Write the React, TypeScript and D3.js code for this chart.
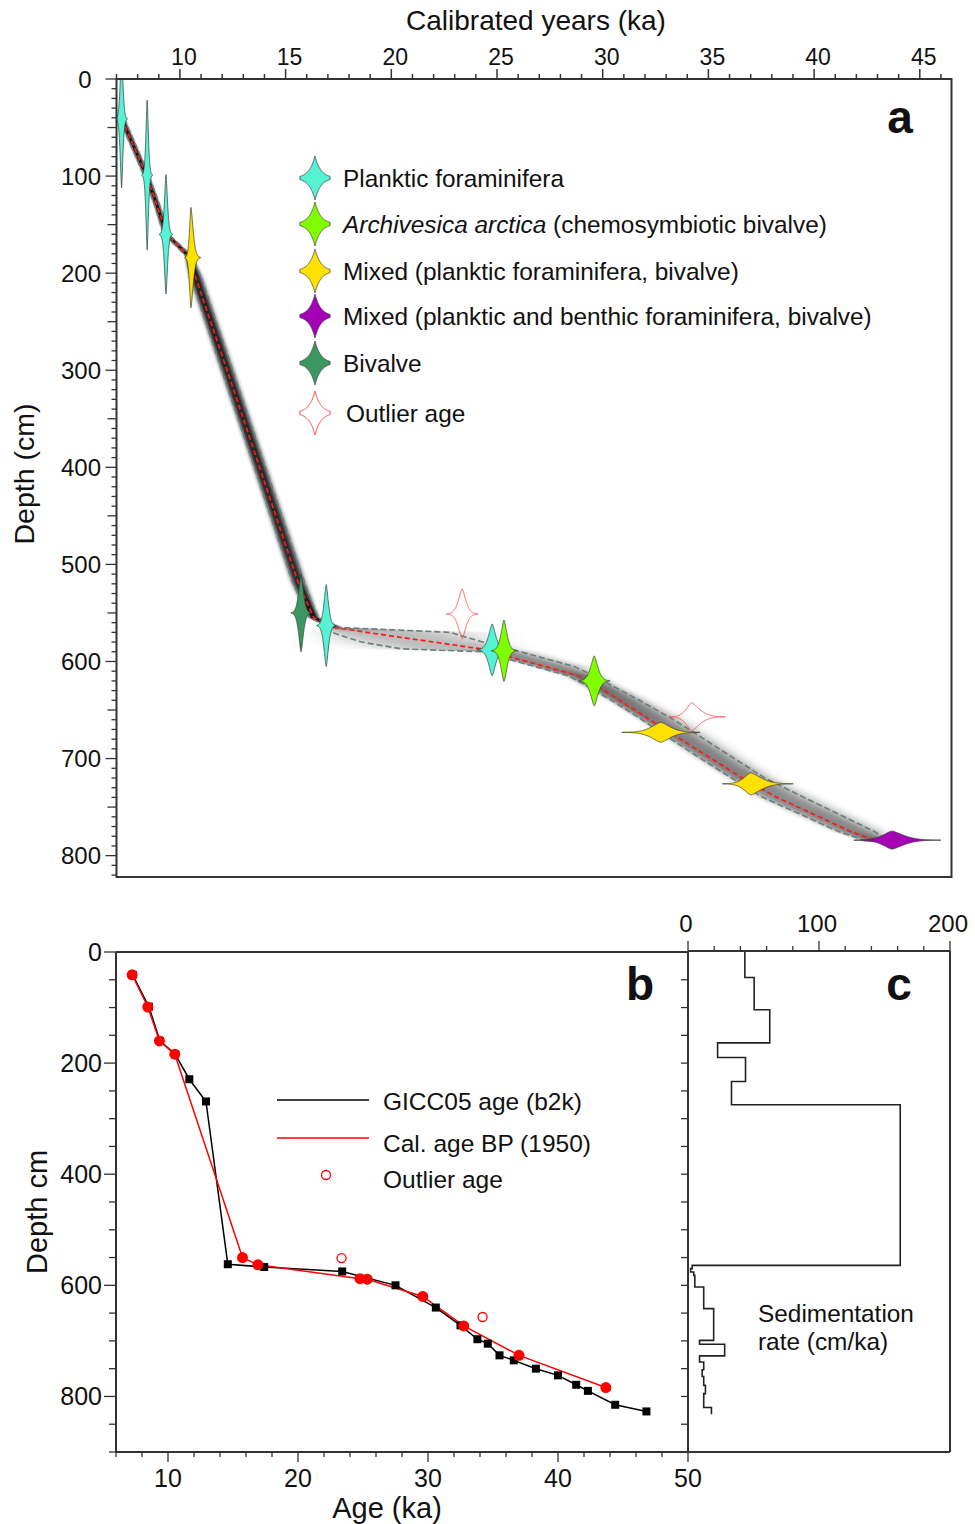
import React from "react";
import * as d3 from "d3";

// ---------- DATA ----------
// Dated samples (calibrated ages, ka) and depths (cm)
const calAges = [7.24, 8.45, 9.34, 10.52, 15.73, 16.92, 24.77, 25.33, 29.6, 32.75, 37.0, 43.68];
const dateDepths = [41, 99, 160, 184, 550, 563, 588, 589, 620, 673, 726, 784];
const dateTypes = ["planktic", "planktic", "planktic", "mixedPB", "bivalve", "planktic", "planktic", "archivesica", "archivesica", "mixedPB", "mixedPB", "mixedPBB"];
const sigmaYoung = [0.089, 0.082, 0.103, 0.095, 0.158, 0.15, 0.237, 0.2, 0.246, 0.615, 0.447, 0.6];
const sigmaOld = [0.089, 0.082, 0.103, 0.15, 0.158, 0.15, 0.237, 0.2, 0.246, 0.615, 0.67, 0.77];

const outlierAges = [23.35, 34.2];
const outlierDepths = [551, 657];
const outlierSigmaYoung = [0.246, 0.35];
const outlierSigmaOld = [0.246, 0.53];

// Age-depth model (panel a)
const modelDepth = [41, 70, 99, 130, 160, 172, 182, 204, 300, 400, 518, 545, 555, 565, 570, 575, 580, 587, 590, 595, 605, 615, 625, 640, 660, 680, 700, 720, 740, 760, 775, 786];
const modelMean = [7.25, 7.83, 8.41, 8.92, 9.35, 9.94, 10.41, 10.74, 12.23, 13.77, 15.58, 16.13, 16.34, 17.33, 18.84, 20.4, 22.01, 24.23, 24.73, 25.56, 27.24, 28.89, 29.73, 30.8, 32.24, 33.68, 35.14, 36.59, 38.25, 40.24, 41.71, 43.1];
const modelYoung = [7.13, 7.71, 8.29, 8.8, 9.23, 9.82, 10.27, 10.5, 11.98, 13.52, 15.32, 15.9, 16.14, 17.1, 17.18, 17.87, 18.6, 20.48, 24.3, 25.09, 26.76, 28.4, 29.24, 30.41, 31.86, 33.23, 34.64, 36.1, 37.58, 39.62, 41.14, 42.6];
const modelOld = [7.37, 7.95, 8.53, 9.04, 9.47, 10.06, 10.55, 11.0, 12.5, 14.05, 15.88, 16.35, 16.55, 17.6, 22.76, 23.54, 24.33, 25.62, 26.13, 26.94, 28.63, 29.61, 30.45, 31.74, 33.36, 34.8, 36.23, 37.67, 39.52, 41.42, 42.84, 43.6];

// GICC05 ages (b2k), panel b
const giccAges = [7.28, 8.53, 9.38, 10.55, 11.64, 12.92, 14.6, 17.4, 23.4, 27.5, 30.6, 32.5, 33.8, 34.6, 35.5, 36.6, 38.3, 40.0, 41.4, 42.3, 44.4, 46.8];
const giccDepths = [41, 98.5, 160, 184, 229, 269, 562, 567, 575, 600, 640, 672, 697, 705, 726, 735, 750, 762, 779, 790, 815, 827];

// Sedimentation rate (panel c)
const sedBreaks = [0, 46, 104, 163.5, 190, 233, 275, 564, 570, 576, 582, 603, 642, 699, 706, 727, 738, 752, 764, 780, 795, 820, 832];
const sedRates = [43.4, 50.5, 62.4, 22.6, 43.9, 33.2, 162, 3.2, 2, 4.4, 5.2, 12, 19.6, 8.8, 28, 8.8, 12, 10.8, 12, 13.3, 12, 17.9];

const legendAItems = [
  { type: "planktic", label: "Planktic foraminifera" },
  { type: "archivesica", label: "Archivesica arctica", extra: " (chemosymbiotic bivalve)" },
  { type: "mixedPB", label: "Mixed (planktic foraminifera, bivalve)" },
  { type: "mixedPBB", label: "Mixed (planktic and benthic foraminifera, bivalve)" },
  { type: "bivalve", label: "Bivalve" },
  { type: "outlier", label: "Outlier age" },
];

const aTopTickLabels = [10, 15, 20, 25, 30, 35, 40, 45];
const aDepthTickLabels = [0, 100, 200, 300, 400, 500, 600, 700, 800];
const bAgeTickLabels = [10, 20, 30, 40, 50];
const bDepthTickLabels = [0, 200, 400, 600, 800];
const cRateTickLabels = [0, 100, 200];

const typeColors: Record<string, string> = {
  planktic: "#55f3d3",
  archivesica: "#80ff00",
  mixedPB: "#ffe100",
  mixedPBB: "#a600b6",
  bivalve: "#3c9660",
};

const FONT = "Liberation Sans, Arial, Helvetica, sans-serif";
const AX = "#333";

function violinPath(cx: number, cy: number, sL: number, sR: number, H: number, p: number, ext = 3) {
  const n = 160;
  const up: [number, number][] = [];
  const lo: [number, number][] = [];
  for (let i = 0; i <= n; i++) {
    const u = -ext * sL + (i / n) * ext * (sL + sR);
    const s = u < 0 ? sL : sR;
    const f = Math.exp(-Math.pow(Math.abs(u) / s, p));
    up.push([cx + u, cy - H * f]);
    lo.push([cx + u, cy + H * f]);
  }
  lo.reverse();
  const pts = up.concat(lo);
  return "M" + pts.map((q) => q[0].toFixed(2) + "," + q[1].toFixed(2)).join("L") + "Z";
}

export default function App() {
  const xA = d3.scaleLinear().domain([7, 46.5]).range([116.5, 951.5]);
  const yA = d3.scaleLinear().domain([0, 822]).range([79, 877]);
  const xB = d3.scaleLinear().domain([6, 50]).range([116, 688]);
  const yB = d3.scaleLinear().domain([0, 900]).range([952, 1452]);
  const xC = d3.scaleLinear().domain([0, 200]).range([688, 950]);

  const pxPerKa = xA(1) - xA(0);
  const K = 260;

  // ----- band as 1-px rows with horizontal gradient -----
  const meanAt = d3.scaleLinear().domain(modelDepth).range(modelMean).clamp(true);
  const youngAt = d3.scaleLinear().domain(modelDepth).range(modelYoung).clamp(true);
  const oldAt = d3.scaleLinear().domain(modelDepth).range(modelOld).clamp(true);
  const F = 1.9;
  const y0 = Math.ceil(yA(modelDepth[0]));
  const y1 = Math.floor(yA(modelDepth[modelDepth.length - 1]));
  const bandRows = d3.range(y0, y1).map((py) => {
    const d = yA.invert(py + 0.5);
    const m = meanAt(d);
    const yo = youngAt(d);
    const ol = oldAt(d);
    const w = Math.max(0.05, (ol - yo) / 2);
    const op = Math.min(0.92, 0.86 * Math.pow(0.26 / w, 0.5));
    return {
      py,
      xl: xA(m - F * (m - yo)),
      xm: xA(m),
      xr: xA(m + F * (ol - m)),
      op,
    };
  });
  const gstops = d3.range(0, 1.0001, 0.05).map((t) => {
    const u = 1 - t;
    return { t, o: Math.exp(-0.5 * Math.pow(u / 0.5, 3)) };
  });

  const lineOf = (arr: number[]) =>
    d3
      .line<number>()
      .x((v) => xA(v))
      .y((_, i) => yA(modelDepth[i]))(arr) as string;

  // ----- panel b lines -----
  const giccLine = d3
    .line<number>()
    .x((v) => xB(v))
    .y((_, i) => yB(giccDepths[i]))(giccAges) as string;
  const calLine = d3
    .line<number>()
    .x((v) => xB(v))
    .y((_, i) => yB(dateDepths[i]))(calAges) as string;

  // ----- panel c step -----
  const sedPts: [number, number][] = [];
  sedRates.forEach((r, i) => {
    sedPts.push([xC(r), yB(sedBreaks[i])]);
    sedPts.push([xC(r), yB(sedBreaks[i + 1])]);
  });
  const sedLine = d3.line()(sedPts) as string;

  const aTopTicks = d3.range(7, 47);
  const aLeftTicks = d3.range(0, 830, 10);
  const bLeftTicks = d3.range(0, 901, 50);
  const bBottomTicks = d3.range(6, 51, 2);
  const cTopTicks = d3.range(0, 201, 20);

  const textStyle = { fontFamily: FONT, fill: "#111" } as any;

  return (
    <svg width={975} height={1524} style={{ position: "absolute", left: 0, top: 0, background: "#fff" }}>
      <defs>
        <clipPath id="clipA">
          <rect x={116.5} y={79} width={835} height={798} />
        </clipPath>
        <linearGradient id="gradL" x1="0" x2="1" y1="0" y2="0">
          {gstops.map((s, i) => (
            <stop key={i} offset={s.t} stopColor="#000" stopOpacity={s.o} />
          ))}
        </linearGradient>
        <linearGradient id="gradR" x1="1" x2="0" y1="0" y2="0">
          {gstops.map((s, i) => (
            <stop key={i} offset={s.t} stopColor="#000" stopOpacity={s.o} />
          ))}
        </linearGradient>
      </defs>

      {/* ===== PANEL A ===== */}
      <g clipPath="url(#clipA)">
        <g shapeRendering="crispEdges">
          {bandRows.map((r) => (
            <g key={"r" + r.py} fillOpacity={r.op}>
              {r.xm - r.xl > 0.05 && <rect x={r.xl} y={r.py} width={r.xm - r.xl} height={1} fill="url(#gradL)" />}
              {r.xr - r.xm > 0.05 && <rect x={r.xm} y={r.py} width={r.xr - r.xm} height={1} fill="url(#gradR)" />}
            </g>
          ))}
        </g>
        <path d={lineOf(modelYoung)} fill="none" stroke="#6b7f7f" strokeWidth={1.6} strokeDasharray="6,3" />
        <path d={lineOf(modelOld)} fill="none" stroke="#6b7f7f" strokeWidth={1.6} strokeDasharray="6,3" />
        <path d={lineOf(modelMean)} fill="none" stroke="#ff1a1a" strokeWidth={1.7} strokeDasharray="5,3" />
        {outlierAges.map((a, i) => {
          const sL = outlierSigmaYoung[i] * pxPerKa;
          const sR = outlierSigmaOld[i] * pxPerKa;
          return (
            <path
              key={"o" + i}
              d={violinPath(xA(a), yA(outlierDepths[i]), sL, sR, K / (sL + sR), 1.5)}
              fill="none"
              stroke="#ff5a5a"
              strokeWidth={1}
            />
          );
        })}
        {calAges.map((a, i) => {
          const sL = sigmaYoung[i] * pxPerKa;
          const sR = sigmaOld[i] * pxPerKa;
          return (
            <path
              key={"v" + i}
              d={violinPath(xA(a), yA(dateDepths[i]), sL, sR, K / (sL + sR), 1.5)}
              fill={typeColors[dateTypes[i]]}
              stroke="#333"
              strokeWidth={0.7}
            />
          );
        })}
      </g>

      {/* box */}
      <rect x={116.5} y={79} width={835} height={798} fill="none" stroke={AX} strokeWidth={2} />

      {/* top ticks */}
      {aTopTicks.map((t) => (
        <line key={"at" + t} x1={xA(t)} x2={xA(t)} y1={79} y2={79 - (t % 5 === 0 ? 10 : 5)} stroke={AX} strokeWidth={1.5} />
      ))}
      {aTopTickLabels.map((t) => (
        <text key={"atl" + t} x={xA(t) + 4} y={65} textAnchor="middle" fontSize={23} style={textStyle}>
          {t}
        </text>
      ))}
      <text x={536} y={30} textAnchor="middle" fontSize={28} style={textStyle}>
        Calibrated years (ka)
      </text>

      {/* left ticks */}
      {aLeftTicks.map((t) => (
        <line
          key={"al" + t}
          x1={116.5}
          x2={116.5 - (t % 100 === 0 ? 11 : t % 50 === 0 ? 9 : 5)}
          y1={yA(t)}
          y2={yA(t)}
          stroke={AX}
          strokeWidth={1.3}
        />
      ))}
      {aDepthTickLabels.map((t) => (
        <text key={"all" + t} x={t === 0 ? 85 : 81} y={yA(t) + 8.5} textAnchor="middle" fontSize={24} style={textStyle}>
          {t}
        </text>
      ))}
      <text transform="translate(34,474) rotate(-90)" textAnchor="middle" fontSize={28.5} style={textStyle}>
        Depth (cm)
      </text>
      <text x={900} y={133} textAnchor="middle" fontSize={46} fontWeight="bold" style={textStyle}>
        a
      </text>

      {/* legend a */}
      {legendAItems.map((it, i) => {
        const cy = [178, 224, 271, 316, 363, 413][i];
        const cx = 315;
        const isOut = it.type === "outlier";
        return (
          <g key={"la" + i}>
            <path
              d={violinPath(cx, cy, 5.8, 5.8, 22, 1, 2.6)}
              fill={isOut ? "#fff" : typeColors[it.type]}
              stroke={isOut ? "#ff3b3b" : "#444"}
              strokeWidth={isOut ? 1 : 0.8}
            />
            <text x={isOut ? 346 : 343} y={cy + 8.5} fontSize={24.4} style={textStyle}>
              {it.extra ? (
                <>
                  <tspan fontStyle="italic">{it.label}</tspan>
                  <tspan>{it.extra}</tspan>
                </>
              ) : (
                it.label
              )}
            </text>
          </g>
        );
      })}

      {/* ===== PANEL B ===== */}
      <line x1={116} x2={688} y1={952} y2={952} stroke={AX} strokeWidth={2} />
      <line x1={116} x2={116} y1={952} y2={1452} stroke={AX} strokeWidth={2} />
      <line x1={116} x2={950} y1={1452} y2={1452} stroke={AX} strokeWidth={2} />
      {bLeftTicks.map((t) => (
        <line key={"bl" + t} x1={116} x2={116 - (t % 200 === 0 ? 12 : 7)} y1={yB(t)} y2={yB(t)} stroke={AX} strokeWidth={1.3} />
      ))}
      {bDepthTickLabels.map((t) => (
        <text key={"bll" + t} x={102} y={yB(t) + 9} textAnchor="end" fontSize={25} style={textStyle}>
          {t}
        </text>
      ))}
      {bBottomTicks.map((t) => (
        <line key={"bb" + t} x1={xB(t)} x2={xB(t)} y1={1452} y2={1452 + (t % 10 === 0 ? 10 : 5)} stroke={AX} strokeWidth={1.3} />
      ))}
      {bAgeTickLabels.map((t) => (
        <text key={"bbl" + t} x={xB(t)} y={1487} textAnchor="middle" fontSize={25} style={textStyle}>
          {t}
        </text>
      ))}
      <text x={387} y={1518} textAnchor="middle" fontSize={29} style={textStyle}>
        Age (ka)
      </text>
      <text transform="translate(47,1212) rotate(-90)" textAnchor="middle" fontSize={29} style={textStyle}>
        Depth cm
      </text>
      <text x={640} y={1000} textAnchor="middle" fontSize={46} fontWeight="bold" style={textStyle}>
        b
      </text>

      <path d={giccLine} fill="none" stroke="#000" strokeWidth={1.5} />
      <path d={calLine} fill="none" stroke="#ff0000" strokeWidth={1.5} />
      {giccAges.map((a, i) => (
        <rect key={"gs" + i} x={xB(a) - 4} y={yB(giccDepths[i]) - 4} width={8} height={8} fill="#000" />
      ))}
      {calAges.map((a, i) => (
        <circle key={"cc" + i} cx={xB(a)} cy={yB(dateDepths[i])} r={5.5} fill="#ff0000" />
      ))}
      {outlierAges.map((a, i) => (
        <circle key={"oc" + i} cx={xB(a)} cy={yB(outlierDepths[i])} r={4.5} fill="none" stroke="#ff0000" strokeWidth={1.3} />
      ))}

      {/* legend b */}
      <line x1={277} x2={369} y1={1100} y2={1100} stroke="#000" strokeWidth={1.5} />
      <line x1={277} x2={369} y1={1138} y2={1138} stroke="#ff0000" strokeWidth={1.5} />
      <circle cx={326} cy={1175} r={4.5} fill="none" stroke="#ff0000" strokeWidth={1.3} />
      <text x={383} y={1110} fontSize={24.5} style={textStyle}>GICC05 age (b2k)</text>
      <text x={383} y={1152} fontSize={24.5} style={textStyle}>Cal. age BP (1950)</text>
      <text x={383} y={1188} fontSize={24.5} style={textStyle}>Outlier age</text>

      {/* ===== PANEL C ===== */}
      <line x1={688} x2={950} y1={951} y2={951} stroke={AX} strokeWidth={2} />
      <line x1={688} x2={688} y1={951} y2={1452} stroke={AX} strokeWidth={2} />
      <line x1={950} x2={950} y1={951} y2={1452} stroke={AX} strokeWidth={2} />
      {bLeftTicks.map((t) => (
        <line key={"cl" + t} x1={688} x2={681} y1={yB(t)} y2={yB(t)} stroke={AX} strokeWidth={1.3} />
      ))}
      {cTopTicks.map((t) => (
        <line key={"ct" + t} x1={xC(t)} x2={xC(t)} y1={951} y2={951 - (t % 100 === 0 ? 10 : 5)} stroke={AX} strokeWidth={1.3} />
      ))}
      {cRateTickLabels.map((t) => (
        <text key={"ctl" + t} x={xC(t) - 2} y={932} textAnchor="middle" fontSize={24} style={textStyle}>
          {t}
        </text>
      ))}
      <path d={sedLine} fill="none" stroke="#222" strokeWidth={1.6} />
      <text x={899} y={1000} textAnchor="middle" fontSize={46} fontWeight="bold" style={textStyle}>
        c
      </text>
      <text x={758} y={1322} fontSize={24.4} style={textStyle}>Sedimentation</text>
      <text x={758} y={1350} fontSize={24.4} style={textStyle}>rate (cm/ka)</text>
    </svg>
  );
}
